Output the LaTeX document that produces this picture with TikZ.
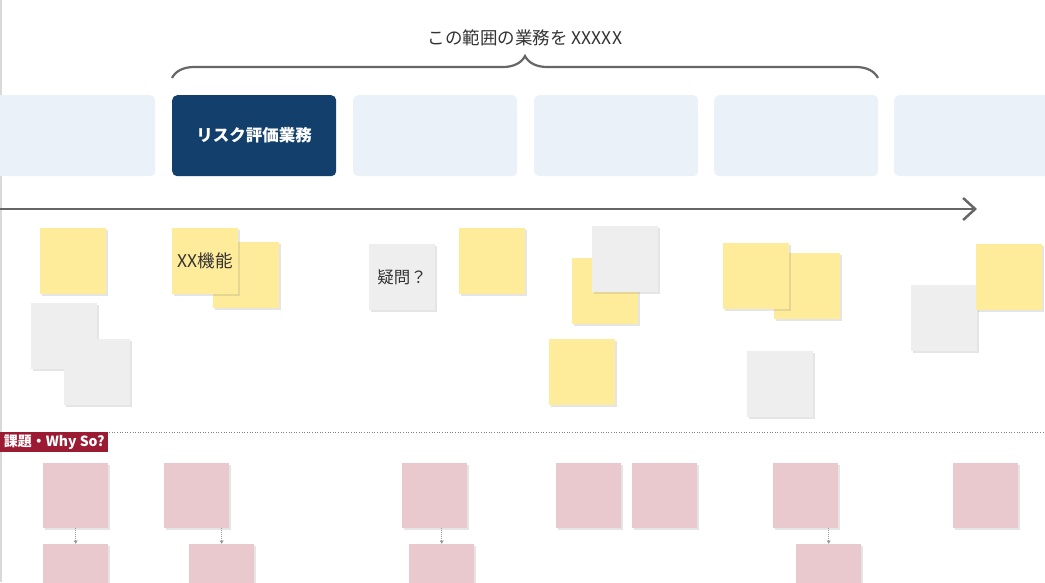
\documentclass[tikz,border=0pt]{standalone}
\usepackage{xcolor}
\usepackage{fontspec}
\setmainfont{Noto Sans CJK JP}
\usepackage{tikz}
\usetikzlibrary{arrows.meta}
\usetikzlibrary{shadows}
\usetikzlibrary{decorations.pathreplacing}
\definecolor{flowgray}{HTML}{666666}
\definecolor{stepblue}{HTML}{EAF1F8}
\definecolor{stepnavy}{HTML}{123F6B}
\definecolor{noteyellow}{HTML}{FFEC9A}
\definecolor{notegray}{HTML}{EEEEEE}
\definecolor{notepink}{HTML}{E9C9CE}
\definecolor{issuered}{HTML}{9B1B32}
\tikzset{>=latex}
\tikzstyle{stepbox} = [rectangle, rounded corners=5pt, fill=stepblue, minimum width=164pt, minimum height=81pt, anchor=north west, inner sep=0pt]
\tikzstyle{note} = [rectangle, minimum size=66pt, anchor=north west, inner sep=0pt, drop shadow={shadow xshift=1.5pt, shadow yshift=-1.5pt, opacity=0.2}, text=black!80, font=\fontsize{17.5}{20}\selectfont]
\tikzstyle{issue} = [note, fill=notepink, minimum size=65pt]
\tikzstyle{why} = [-{Latex[length=3.5pt,width=4.5pt]}, densely dotted, draw=black!40, line width=1pt]

\begin{document}
\begin{tikzpicture}[x=1pt, y=-1pt]
\useasboundingbox (0,0) rectangle (1045,582);
\fill [white] (0,0) rectangle (1045,582);
\draw [black!15, line width=1.5pt] (1,0) -- (1,582);

% scope of the work
\node [text=black!80, font=\fontsize{17.5}{20}\selectfont] (title) at (525,38) {この範囲の業務を XXXXX};
\coordinate (braceL) at (172,78);
\coordinate (braceR) at (878,78);
\draw [decorate, decoration={brace, amplitude=22pt}, draw=flowgray, line width=2.2pt] (braceL) -- (braceR);

% business steps
\node [stepbox] (s0) at (-9,95) {};
\node [stepbox, fill=stepnavy, text=white, font=\fontsize{16.5}{19}\selectfont\bfseries] (s1) at (172,95) {リスク評価業務};
\node [stepbox] (s2) at (353,95) {};
\node [stepbox] (s3) at (534,95) {};
\node [stepbox] (s4) at (714,95) {};
\node [stepbox] (s5) at (894,95) {};

\coordinate (flowstart) at (0,209);
\coordinate (flowend) at (977,209);
\draw [-{Straight Barb[length=12pt, width=22pt]}, draw=flowgray, line width=2.5pt] (flowstart) -- (flowend);

% sticky notes
\node [note, fill=noteyellow] (y1) at (40,228) {};
\node [note, fill=notegray] (g1) at (31,303) {};
\node [note, fill=notegray] (g2) at (64,339) {};
\node [note, fill=noteyellow] (y2b) at (213,242) {};
\node [note, fill=noteyellow] (y2) at (172,228) {XX機能};
\node [note, fill=notegray, font=\fontsize{16.5}{19}\selectfont] (g3) at (369,244) {疑問？};
\node [note, fill=noteyellow] (y3) at (459,228) {};
\node [note, fill=noteyellow] (y4) at (572,258) {};
\node [note, fill=notegray] (g4) at (592,226) {};
\node [note, fill=noteyellow] (y5) at (549,339) {};
\node [note, fill=noteyellow] (y7) at (774,253) {};
\node [note, fill=noteyellow] (y6) at (723,243) {};
\node [note, fill=notegray] (g5) at (747,351) {};
\node [note, fill=notegray] (g6) at (911,285) {};
\node [note, fill=noteyellow] (y8) at (976,244) {};

% issues
\coordinate (sepL) at (0,432);
\coordinate (sepR) at (1045,432);
\draw [black!50, dotted, line width=0.6pt] (sepL) -- (sepR);
\node [fill=issuered, text=white, anchor=north west, minimum width=108pt, minimum height=20pt, inner sep=0pt, font=\fontsize{14}{16}\selectfont\bfseries] (whyso) at (0,432) {課題・Why So?};

\node [issue] (p1) at (43,463) {};
\node [issue] (p2) at (164,463) {};
\node [issue] (p3) at (402,463) {};
\node [issue] (p4) at (556,463) {};
\node [issue] (p5) at (632,463) {};
\node [issue] (p6) at (773,463) {};
\node [issue] (p7) at (953,463) {};
\node [issue] (q1) at (43,544) {};
\node [issue] (q2) at (189,544) {};
\node [issue] (q3) at (409,544) {};
\node [issue] (q6) at (796,544) {};

\draw [why] (p1.south) -- (q1.north);
\draw [why] (q2.north |- p2.south) -- (q2.north);
\draw [why] (q3.north |- p3.south) -- (q3.north);
\draw [why] (q6.north |- p6.south) -- (q6.north);
\end{tikzpicture}
\end{document}
